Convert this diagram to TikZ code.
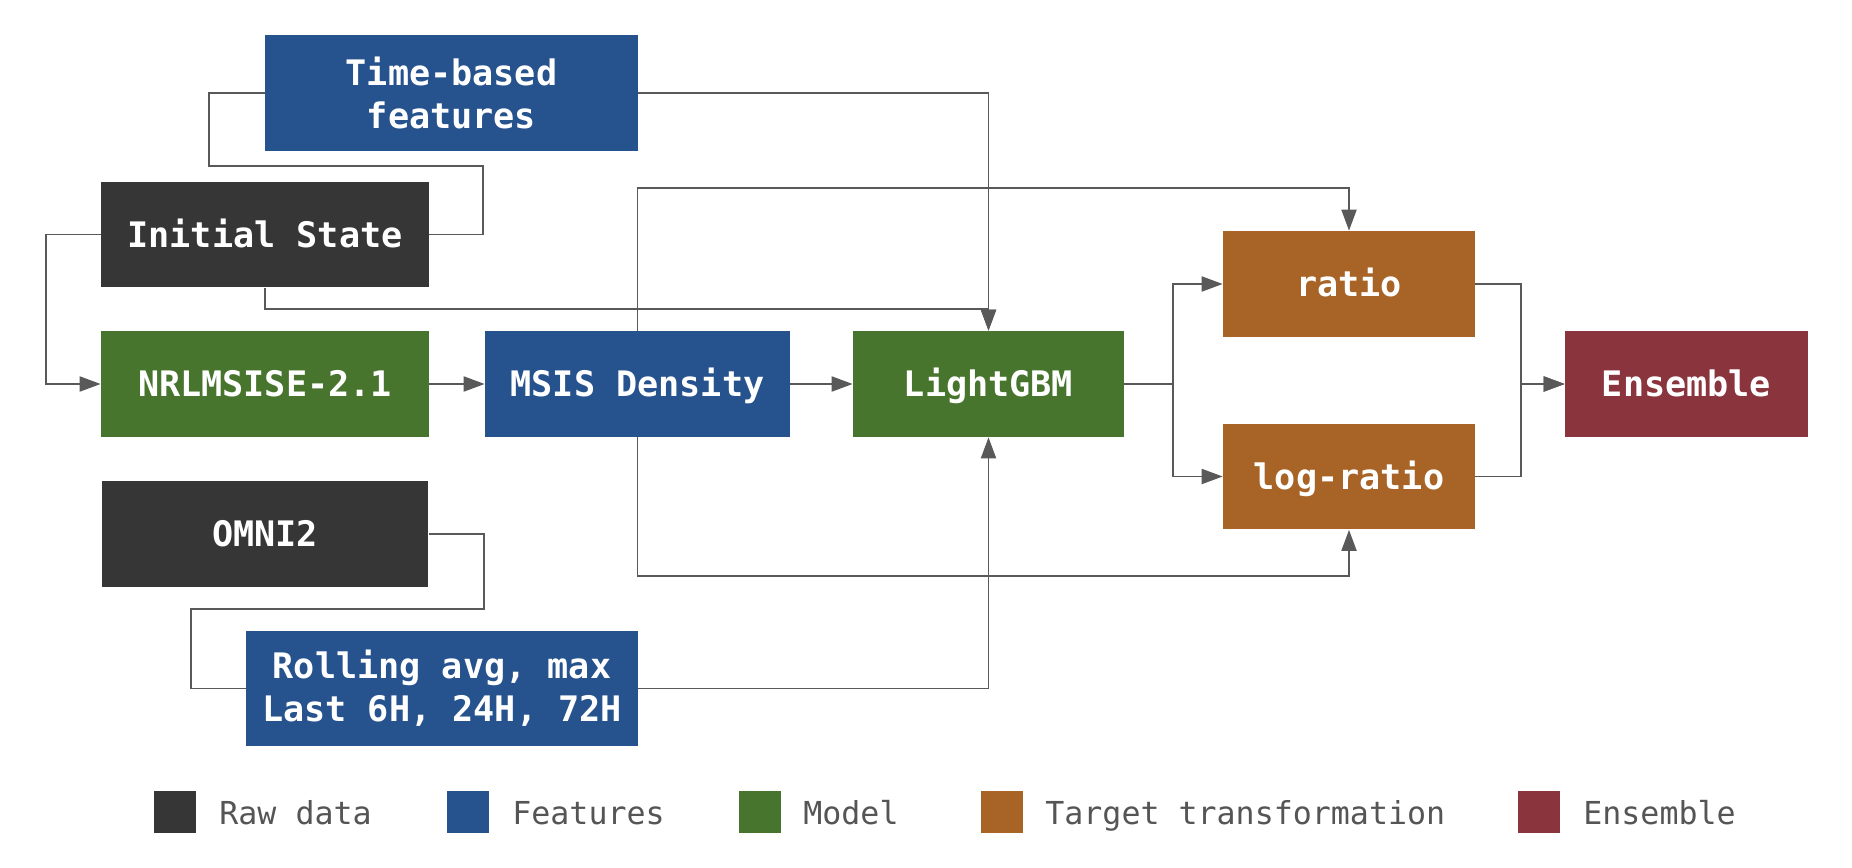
\documentclass[tikz,border=0pt]{standalone}
\usepackage{fontspec}
\setmonofont{DejaVu Sans Mono}
\usetikzlibrary{arrows.meta}
\definecolor{rawc}{HTML}{363636}
\definecolor{featc}{HTML}{26528D}
\definecolor{modelc}{HTML}{48752D}
\definecolor{tgtc}{HTML}{A86326}
\definecolor{ensc}{HTML}{8A343D}
\definecolor{linec}{HTML}{595959}
\definecolor{legc}{HTML}{555555}
\begin{document}
\begin{tikzpicture}
		[x=0.02cm, y=-0.02cm,
		box/.style={rectangle, inner sep=0pt, minimum height=2.12cm, text=white, align=center,
			text height=14.6pt, text depth=0pt,
			font=\ttfamily\bfseries\fontsize{20}{24.5}\selectfont},
		twoline/.style={minimum height=2.32cm, text height={}, text depth={}},
		rawbox/.style={box, fill=rawc},
		featbox/.style={box, fill=featc},
		modelbox/.style={box, fill=modelc},
		tgtbox/.style={box, fill=tgtc},
		ensbox/.style={box, fill=ensc},
		conn/.style={draw=linec, line width=1.1pt},
		legbox/.style={rectangle, inner sep=0pt, minimum size=0.84cm},
		legtext/.style={anchor=base west, inner sep=0pt, text=legc, font=\ttfamily\fontsize{18}{22}\selectfont},
		>={Triangle[length=0.42cm,width=0.3cm]}]
		\useasboundingbox (0,0) rectangle (1852,868);
		\node[featbox, twoline, minimum width=7.46cm] (timef) at (451.5,93) {Time-based\\features};
		\node[rawbox, minimum width=6.56cm] (init) at (265,234.5) {Initial State};
		\node[modelbox, minimum width=6.56cm] (nrl) at (265,384) {NRLMSISE-2.1};
		\node[featbox, minimum width=6.1cm] (msis) at (637.5,384) {MSIS Density};
		\node[modelbox, minimum width=5.42cm] (lgbm) at (988.5,384) {LightGBM};
		\node[tgtbox, minimum width=5.04cm] (ratio) at (1349,284) {ratio};
		\node[tgtbox, minimum width=5.04cm] (logr) at (1349,476.5) {log-ratio};
		\node[ensbox, minimum width=4.86cm] (ens) at (1686.5,384) {Ensemble};
		\node[rawbox, minimum width=6.54cm] (omni) at (265,534) {OMNI2};
		\node[featbox, twoline, minimum width=7.84cm, minimum height=2.3cm] (roll) at (442,688.5) {Rolling avg, max\\Last 6H, 24H, 72H};
		% connectors
		\draw[conn] (timef.west) -- ++(-56,0) |- ++(274,73) |- (init.east);
		\draw[conn, ->] (init.west) -- ++(-55,0) |- (nrl.west);
		\draw[conn, ->] (init.south) -- ++(0,21) -| (lgbm.north);
		\draw[conn, ->] (timef.east) -| (lgbm.north);
		\draw[conn, ->] (nrl) -- (msis);
		\draw[conn, ->] (msis) -- (lgbm);
		\draw[conn, ->] (msis.north) -- ++(0,-143) -| (ratio.north);
		\draw[conn, ->] (msis.south) -- ++(0,139) -| (logr.south);
		\draw[conn, ->] (lgbm.east) -- ++(49,0) |- (ratio.west);
		\draw[conn, ->] (lgbm.east) -- ++(49,0) |- (logr.west);
		\draw[conn, ->] (ratio.east) -- ++(46,0) |- (ens.west);
		\draw[conn, ->] (logr.east) -- ++(46,0) |- (ens.west);
		\draw[conn] (omni.east) -- ++(55,0) |- ++(-293,75) |- (roll.west);
		\draw[conn, ->] (roll.east) -| (lgbm.south);
		% legend
		\node[legbox, fill=rawc] (lraw) at (175,812) {};
		\node[legtext] (traw) at (219,824) {Raw data};
		\node[legbox, fill=featc] (lfeat) at (468,812) {};
		\node[legtext] (tfeat) at (512,824) {Features};
		\node[legbox, fill=modelc] (lmodel) at (760,812) {};
		\node[legtext] (tmodel) at (803,824) {Model};
		\node[legbox, fill=tgtc] (ltgt) at (1001.5,812) {};
		\node[legtext] (ttgt) at (1045,824) {Target transformation};
		\node[legbox, fill=ensc] (lens) at (1539,812) {};
		\node[legtext] (tens) at (1583,824) {Ensemble};
	\end{tikzpicture}
\end{document}
